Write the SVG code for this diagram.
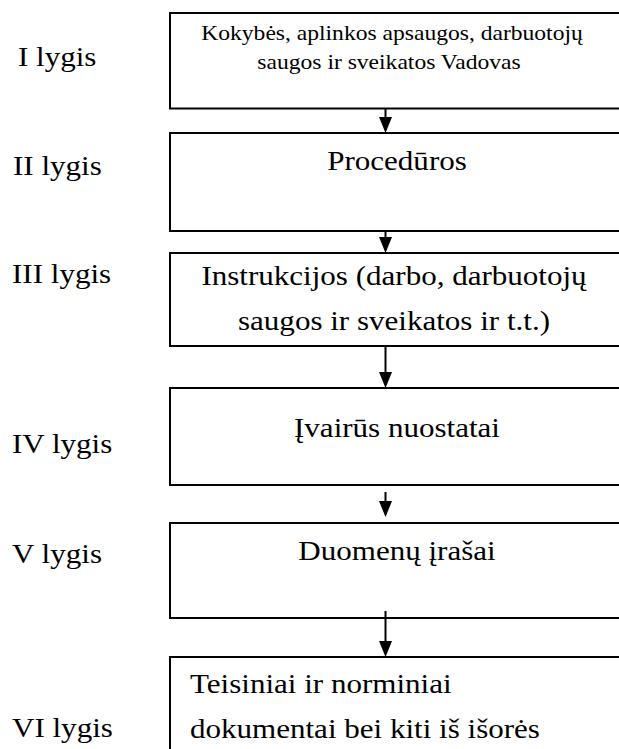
<svg xmlns="http://www.w3.org/2000/svg" width="619" height="749" viewBox="0 0 619 749">
  <style>
    .box { fill: #ffffff; stroke: #000000; stroke-width: 2; }
    .t { font-family: "Liberation Serif", "Times New Roman", serif; font-size: 27px; fill: #000000; }
    .ts { font-family: "Liberation Serif", "Times New Roman", serif; font-size: 20.5px; fill: #000000; }
    .c { text-anchor: middle; }
    .conn { stroke: #000000; stroke-width: 2; fill: none; }
  </style>
  <defs>
    <marker id="ah" markerUnits="userSpaceOnUse" markerWidth="16" markerHeight="13" refX="13" refY="6.5" orient="auto">
      <path d="M0,0 L16,6.5 L0,13 Z" fill="#000000"/>
    </marker>
  </defs>
  <rect width="619" height="749" fill="#ffffff"/>

  <g id="levels">
    <text class="t" transform="translate(18,66) scale(1.15,1)">I lygis</text>
    <text class="t" transform="translate(13,175) scale(1.15,1)">II lygis</text>
    <text class="t" transform="translate(12,283) scale(1.15,1)">III lygis</text>
    <text class="t" transform="translate(12,453) scale(1.15,1)">IV lygis</text>
    <text class="t" transform="translate(12,563) scale(1.15,1)">V lygis</text>
    <text class="t" transform="translate(12,737) scale(1.15,1)">VI lygis</text>
  </g>

  <g id="node1">
    <rect class="box" x="170" y="13" width="480" height="95.5"/>
    <text class="ts c" transform="translate(392,40) scale(1.15,1)">Kokybės, aplinkos apsaugos, darbuotojų</text>
    <text class="ts c" transform="translate(389,69) scale(1.15,1)">saugos ir sveikatos Vadovas</text>
  </g>

  <g id="node2">
    <rect class="box" x="170" y="133" width="480" height="98"/>
    <text class="t c" transform="translate(397,170) scale(1.15,1)">Procedūros</text>
  </g>

  <g id="node3">
    <rect class="box" x="170" y="253" width="480" height="93"/>
    <text class="t c" transform="translate(394,285) scale(1.15,1)">Instrukcijos (darbo, darbuotojų</text>
    <text class="t c" transform="translate(394,330) scale(1.15,1)">saugos ir sveikatos ir t.t.)</text>
  </g>

  <g id="node4">
    <rect class="box" x="170" y="388" width="480" height="97"/>
    <text class="t c" transform="translate(397,437) scale(1.15,1)">Įvairūs nuostatai</text>
  </g>

  <g id="node5">
    <rect class="box" x="170" y="523" width="480" height="95"/>
    <text class="t c" transform="translate(397,560) scale(1.15,1)">Duomenų įrašai</text>
  </g>

  <g id="node6">
    <rect class="box" x="170" y="657" width="480" height="120"/>
    <text class="t" transform="translate(190,693) scale(1.15,1)">Teisiniai ir norminiai</text>
    <text class="t" transform="translate(190,738) scale(1.15,1)">dokumentai bei kiti iš išorės</text>
  </g>

  <g id="connectors">
    <line class="conn" x1="385.5" y1="108.5" x2="385.5" y2="130" marker-end="url(#ah)"/>
    <line class="conn" x1="385.5" y1="231" x2="385.5" y2="250" marker-end="url(#ah)"/>
    <line class="conn" x1="385.5" y1="346" x2="385.5" y2="385" marker-end="url(#ah)"/>
    <line class="conn" x1="385.5" y1="492" x2="385.5" y2="514" marker-end="url(#ah)"/>
    <line class="conn" x1="385.5" y1="611" x2="385.5" y2="654" marker-end="url(#ah)"/>
  </g>
</svg>
